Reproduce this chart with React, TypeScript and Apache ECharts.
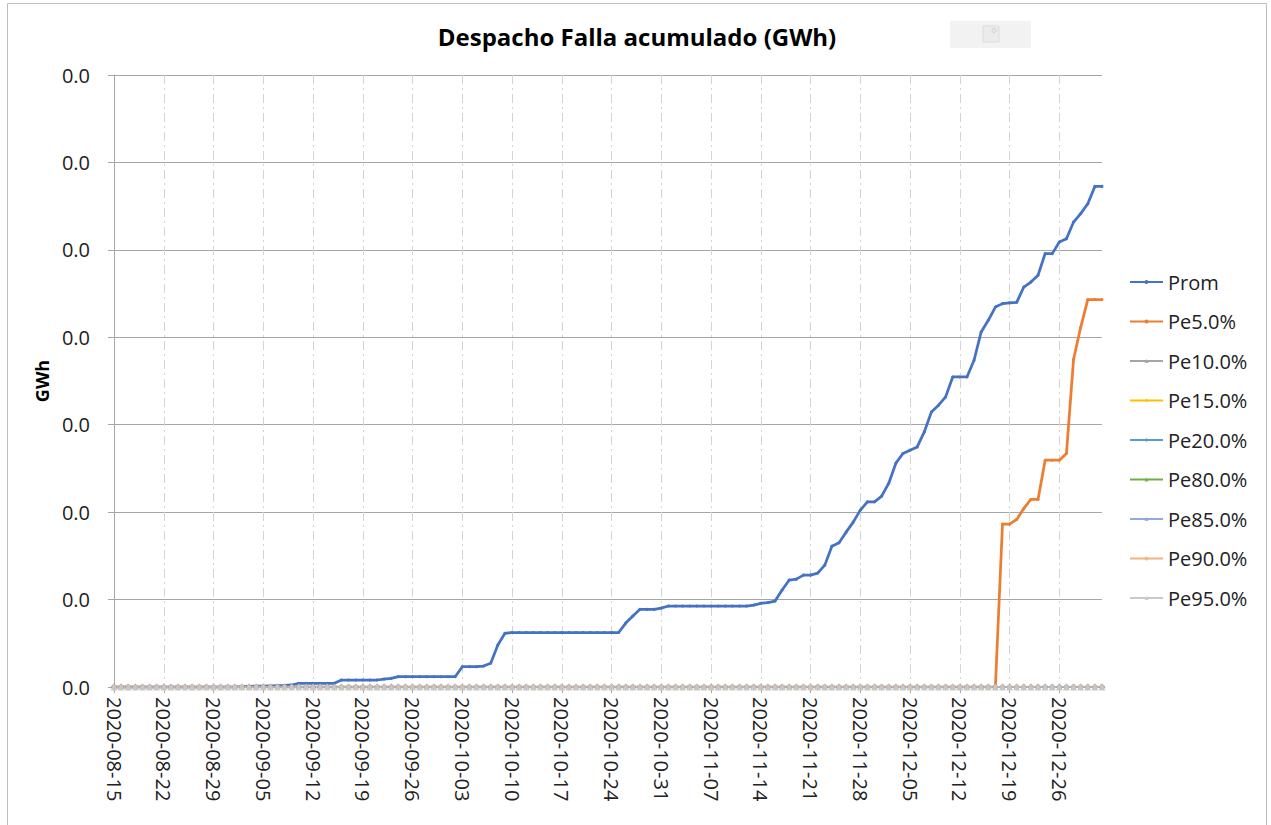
import React, { useEffect, useRef } from "react";
import * as echarts from "echarts";

const titleText = "Despacho Falla acumulado (GWh)";
const yAxisName = "GWh";
const seriesNames = ["Prom", "Pe5.0%", "Pe10.0%", "Pe15.0%", "Pe20.0%", "Pe80.0%", "Pe85.0%", "Pe90.0%", "Pe95.0%"];
const seriesColors = ["#4472C4", "#ED7D31", "#A5A5A5", "#FFC000", "#5B9BD5", "#70AD47", "#8FAADC", "#F4B183", "#C9C9C9"];
const seriesSymbols = ["circle", "circle", "triangle", "diamond", "diamond", "triangle", "triangle", "circle", "triangle"];

// daily categories 2020-08-15 .. 2021-01-01
const dates: string[] = [];
{
  const d = new Date(Date.UTC(2020, 7, 15));
  for (let i = 0; i < 140; i++) {
    dates.push(d.toISOString().slice(0, 10));
    d.setUTCDate(d.getUTCDate() + 1);
  }
}

const prom: number[] = [
  0, 0, 0, 0, 0, 0, 0, 0, 0, 0, 0, 0, 0, 0, 0, 0, 0, 0,
  0.000003, 0.000006, 0.000009, 0.000011, 0.000014, 0.000017, 0.000019, 0.000023,
  0.000042, 0.000042, 0.000042, 0.000042, 0.000042, 0.000042,
  0.00008, 0.00008, 0.00008, 0.00008, 0.00008, 0.00008,
  0.000091, 0.000099,
  0.000118, 0.000118, 0.000118, 0.000118, 0.000118, 0.000118, 0.000118, 0.000118, 0.000118,
  0.000232, 0.000232, 0.000232,
  0.00024, 0.000271, 0.00048, 0.000614,
  0.000623, 0.000623, 0.000623, 0.000623, 0.000623, 0.000623, 0.000623, 0.000623,
  0.000623, 0.000623, 0.000623, 0.000623, 0.000623, 0.000623, 0.000623, 0.000623,
  0.000731, 0.000811,
  0.000888, 0.000888, 0.000888,
  0.000903,
  0.000926, 0.000926, 0.000926, 0.000926, 0.000926, 0.000926, 0.000926, 0.000926, 0.000926, 0.000926, 0.000926, 0.000926,
  0.000937, 0.000957, 0.000966, 0.000983, 0.001109, 0.001223, 0.001234, 0.00128, 0.00128, 0.001303,
  0.001394, 0.001611, 0.001649, 0.001771, 0.001886, 0.002023, 0.002118, 0.002118, 0.002183, 0.002331,
  0.00256, 0.002671, 0.002709, 0.002746, 0.002918, 0.003146, 0.003223, 0.003318, 0.003546, 0.003546,
  0.003546, 0.003737, 0.004061, 0.004194, 0.004346, 0.004385, 0.004394, 0.0044, 0.004575, 0.004632,
  0.004709, 0.004957, 0.004957, 0.005089, 0.005128, 0.005318, 0.005414, 0.005528, 0.005726, 0.005726,
];

const pe5: number[] = [
  0, 0, 0, 0, 0, 0, 0, 0, 0, 0, 0, 0, 0, 0, 0, 0, 0, 0, 0, 0, 0, 0, 0, 0, 0,
  0, 0, 0, 0, 0, 0, 0, 0, 0, 0, 0, 0, 0, 0, 0, 0, 0, 0, 0, 0, 0, 0, 0, 0, 0,
  0, 0, 0, 0, 0, 0, 0, 0, 0, 0, 0, 0, 0, 0, 0, 0, 0, 0, 0, 0, 0, 0, 0, 0, 0,
  0, 0, 0, 0, 0, 0, 0, 0, 0, 0, 0, 0, 0, 0, 0, 0, 0, 0, 0, 0, 0, 0, 0, 0, 0,
  0, 0, 0, 0, 0, 0, 0, 0, 0, 0, 0, 0, 0, 0, 0, 0, 0, 0, 0, 0, 0, 0, 0, 0, 0,
  0.001863, 0.001863, 0.001917, 0.002042, 0.002145, 0.002145, 0.002594, 0.002594, 0.002594, 0.002671,
  0.003749, 0.004114, 0.004431, 0.004431, 0.004431,
];

// the other percentiles stay at zero over the whole period
const peZero: number[] = [
  0, 0, 0, 0, 0, 0, 0, 0, 0, 0, 0, 0, 0, 0, 0, 0, 0, 0, 0, 0, 0, 0, 0, 0, 0, 0, 0, 0,
  0, 0, 0, 0, 0, 0, 0, 0, 0, 0, 0, 0, 0, 0, 0, 0, 0, 0, 0, 0, 0, 0, 0, 0, 0, 0, 0, 0,
  0, 0, 0, 0, 0, 0, 0, 0, 0, 0, 0, 0, 0, 0, 0, 0, 0, 0, 0, 0, 0, 0, 0, 0, 0, 0, 0, 0,
  0, 0, 0, 0, 0, 0, 0, 0, 0, 0, 0, 0, 0, 0, 0, 0, 0, 0, 0, 0, 0, 0, 0, 0, 0, 0, 0, 0,
  0, 0, 0, 0, 0, 0, 0, 0, 0, 0, 0, 0, 0, 0, 0, 0, 0, 0, 0, 0, 0, 0, 0, 0, 0, 0, 0, 0,
];

const seriesData: number[][] = [prom, pe5, peZero, peZero, peZero, peZero, peZero, peZero, peZero];

const FONT = "'Open Sans', 'Noto Sans', sans-serif";

export default function App() {
  const ref = useRef<HTMLDivElement>(null);
  useEffect(() => {
    document.body.style.margin = "0";
    const chart = echarts.init(ref.current!, null, { renderer: "svg" });
    const option: any = {
      animation: false,
      backgroundColor: "#ffffff",
      textStyle: { fontFamily: FONT },
      grid: { left: 114, right: 169, top: 75, bottom: 138, outerBoundsMode: "none", containLabel: false },
      legend: {
        orient: "vertical",
        left: 1129,
        top: 272,
        padding: 0,
        itemWidth: 33,
        itemHeight: 5,
        itemGap: 19.5,
        textStyle: { fontSize: 20, color: "#222", fontFamily: FONT },
        data: seriesNames,
      },
      xAxis: {
        type: "category",
        data: dates,
        boundaryGap: false,
        axisLine: { show: true, lineStyle: { color: "#A6A6A6", width: 1 } },
        axisTick: { show: true, interval: 6, length: 6, lineStyle: { color: "#A6A6A6" } },
        axisLabel: { interval: 6, rotate: -90, fontSize: 20, color: "#222", margin: 10, fontFamily: FONT },
        splitLine: { show: true, interval: 6, lineStyle: { color: "#D4D4D4", width: 1, type: [9, 4, 2, 4] } },
      },
      yAxis: {
        type: "value",
        min: 0,
        max: 0.007,
        interval: 0.001,
        name: yAxisName,
        nameLocation: "middle",
        nameRotate: 90,
        nameGap: 60,
        nameTextStyle: { fontSize: 18, fontWeight: "bold", color: "#000", fontFamily: FONT },
        axisLine: { show: true, lineStyle: { color: "#A6A6A6", width: 1 } },
        axisTick: { show: true, length: 6, lineStyle: { color: "#A6A6A6" } },
        axisLabel: { formatter: (v: number) => v.toFixed(1), fontSize: 20, color: "#222", margin: 24, fontFamily: FONT },
        splitLine: { show: true, lineStyle: { color: "#A6A6A6", width: 1 } },
      },
      graphic: [
        {
          type: "rect",
          silent: true,
          shape: { x: 7.5, y: 3.5, width: 1259, height: 840 },
          style: { fill: "none", stroke: "#BDBDBD", lineWidth: 1 },
          z: -10,
        },
        {
          type: "text",
          x: 637,
          y: 36,
          style: {
            text: titleText,
            textAlign: "center",
            textVerticalAlign: "middle",
            fontSize: 24,
            fontWeight: "bold",
            fill: "#000",
            fontFamily: FONT,
          },
        },
        {
          type: "rect",
          silent: true,
          shape: { x: 950, y: 21, width: 81, height: 27 },
          style: { fill: "#F2F2F2", stroke: "none" },
        },
        {
          type: "rect",
          silent: true,
          shape: { x: 983, y: 26, width: 16, height: 16 },
          style: { fill: "#EBEBEB", stroke: "#DCDCDC", lineWidth: 1 },
        },
        {
          type: "circle",
          silent: true,
          shape: { cx: 994, cy: 30.5, r: 2 },
          style: { fill: "none", stroke: "#CFCFCF", lineWidth: 1 },
        },
      ],
      series: seriesNames.map((name, i) => ({
        name,
        type: "line",
        data: seriesData[i],
        showSymbol: true,
        showAllSymbol: true,
        symbol: seriesSymbols[i],
        symbolSize: i < 2 ? 3 : i === 4 || i === 8 ? 7 : 5,
        color: seriesColors[i],
        lineStyle: { color: seriesColors[i], width: i < 2 ? 2.75 : 2 },
        itemStyle: { color: seriesColors[i], opacity: i >= 2 ? 0.85 : 1 },
      })),
    };
    chart.setOption(option);
    return () => chart.dispose();
  }, []);
  return <div ref={ref} style={{ width: 1271, height: 825 }} />;
}
